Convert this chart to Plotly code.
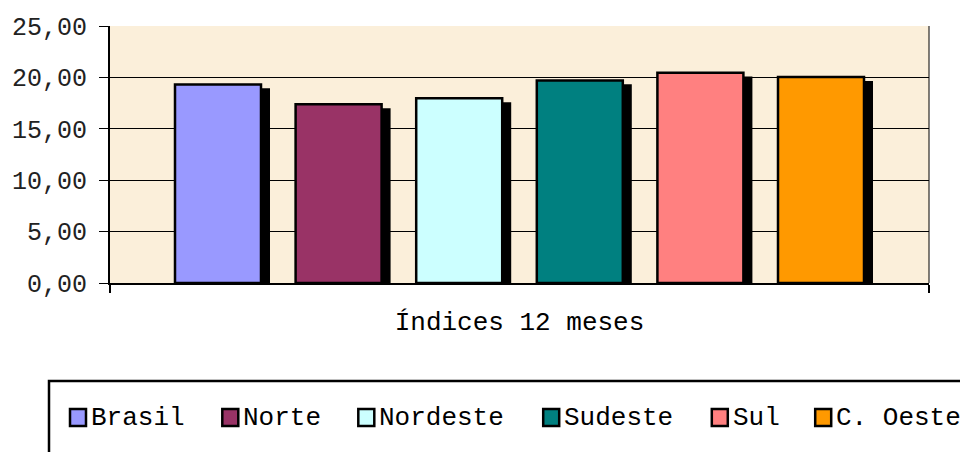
import plotly.graph_objects as go

# ---- data ----
category = "Índices 12 meses"
regions = ["Brasil", "Norte", "Nordeste", "Sudeste", "Sul", "C. Oeste"]
values = [19.32, 17.38, 17.96, 19.71, 20.45, 20.03]
colors = ["#9999FF", "#993366", "#CCFFFF", "#008080", "#FF8080", "#FF9900"]
y_ticks = [0, 5, 10, 15, 20, 25]

# ---- layout constants ----
PAGE_OFF = 8            # default body margin of the html page
W, H = 968 - PAGE_OFF, 452 - PAGE_OFF
ML, MR, MT, MB = 102, 39, 18, 169
PW = W - ML - MR
PH = H - MT - MB
Y_MAX = 25
PPU = PH / Y_MAX

SLOT_PX = 120.6
BAR_PX = 86
SHADOW_DX = 9
SHADOW_DY = 3.8
FONT = "Liberation Mono, Courier New, monospace"

fig = go.Figure()
n = len(regions)
# shadows first
for i, (r, v) in enumerate(zip(regions, values)):
    off = ((i - (n - 1) / 2) * SLOT_PX - BAR_PX / 2 + SHADOW_DX) / PW
    fig.add_trace(go.Bar(
        x=[category], y=[v], base=[-SHADOW_DY / PPU],
        offset=off, width=BAR_PX / PW,
        marker=dict(color="black", line=dict(width=0)),
        hoverinfo="skip", showlegend=False,
    ))
for i, (r, v, c) in enumerate(zip(regions, values, colors)):
    off = ((i - (n - 1) / 2) * SLOT_PX - BAR_PX / 2) / PW
    fig.add_trace(go.Bar(
        x=[category], y=[v], name=r,
        offset=off, width=BAR_PX / PW,
        marker=dict(color=c, line=dict(color="black", width=2.5)),
        showlegend=False,
    ))

# page pixel -> paper coordinates
def px_x(px):
    return (px - PAGE_OFF - ML) / PW

def px_y(py):
    return (H - MB - (py - PAGE_OFF)) / PH

shapes = []
annotations = []
# right border of plot area
shapes.append(dict(type="line", xref="paper", yref="paper", x0=1, x1=1, y0=0, y1=1,
                   line=dict(color="black", width=1)))
# legend box
shapes.append(dict(type="rect", xref="paper", yref="paper",
                   x0=px_x(49), x1=px_x(985), y0=px_y(381), y1=px_y(470),
                   line=dict(color="black", width=2.5), fillcolor="rgba(0,0,0,0)"))
# legend items
sq_left = 69
for r, c in zip(regions, colors):
    shapes.append(dict(type="rect", xref="paper", yref="paper",
                       x0=px_x(sq_left + 1), x1=px_x(sq_left + 17),
                       y0=px_y(409), y1=px_y(426),
                       line=dict(color="black", width=2.5), fillcolor=c))
    annotations.append(dict(xref="paper", yref="paper", x=px_x(sq_left + 20), y=px_y(417.5),
                            xanchor="left", yanchor="middle", text=r, showarrow=False,
                            font=dict(family=FONT, size=26, color="black")))
    sq_left += 54.5 + 16.3 * len(r)

fig.update_layout(
    width=W, height=H,
    margin=dict(l=ML, r=MR, t=MT, b=MB, autoexpand=False),
    barmode="overlay",
    separators=",.",
    plot_bgcolor="#FBEFDA",
    paper_bgcolor="white",
    showlegend=False,
    shapes=shapes,
    annotations=annotations,
    xaxis=dict(
        type="category", range=[-0.5, 0.5], automargin=False,
        showline=True, linecolor="black", linewidth=2,
        ticks="outside", ticklen=8, tickwidth=1.5, tickcolor="black",
        tickson="boundaries", showgrid=False,
        tickfont=dict(family=FONT, size=26, color="black"),
        ticklabelstandoff=14,
    ),
    yaxis=dict(
        range=[0, Y_MAX], tickvals=y_ticks, tickformat=".2f", automargin=False,
        showgrid=True, gridcolor="black", gridwidth=1,
        showline=True, linecolor="black", linewidth=2,
        ticks="outside", ticklen=9, tickwidth=1, tickcolor="black",
        zeroline=False,
        tickfont=dict(family=FONT, size=25, color="#222222"),
        ticklabelstandoff=7,
    ),
)

fig.write_html("out.html")
